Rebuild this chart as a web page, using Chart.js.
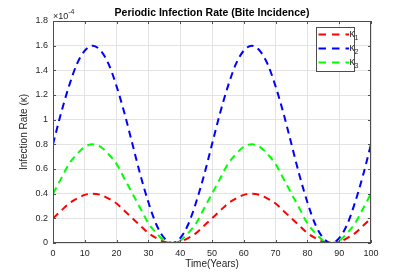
<!DOCTYPE html>
<html>
<head>
<meta charset="utf-8">
<script src="https://cdn.jsdelivr.net/npm/chart.js@4.4.1/dist/chart.umd.min.js"></script>
<style>
  html, body { margin: 0; padding: 0; background: #fff; }
  #wrap { width: 409px; height: 273px; }
</style>
</head>
<body>
<div id="wrap"><canvas id="rateChart" width="409" height="273"></canvas></div>
<script>
// Time axis (years) and the three infection rates, in units of 1e-4
const years = [0, 2.5, 5, 7.5, 10, 12.5, 15, 17.5, 20, 22.5, 25, 27.5, 30, 32.5, 35, 37.5, 40, 42.5, 45, 47.5,
  50, 52.5, 55, 57.5, 60, 62.5, 65, 67.5, 70, 72.5, 75, 77.5, 80, 82.5, 85, 87.5, 90, 92.5, 95, 97.5, 100];

const kappa1 = [0.20, 0.26, 0.32, 0.36, 0.39, 0.40, 0.39, 0.36, 0.32, 0.26, 0.20, 0.14, 0.08, 0.04, 0.01, 0.00, 0.01, 0.04, 0.08, 0.14,
  0.20, 0.26, 0.32, 0.36, 0.39, 0.40, 0.39, 0.36, 0.32, 0.26, 0.20, 0.14, 0.08, 0.04, 0.01, 0.00, 0.01, 0.04, 0.08, 0.14, 0.20];
const kappa2 = [0.80, 1.05, 1.27, 1.45, 1.56, 1.60, 1.56, 1.45, 1.27, 1.05, 0.80, 0.55, 0.33, 0.15, 0.04, 0.00, 0.04, 0.15, 0.33, 0.55,
  0.80, 1.05, 1.27, 1.45, 1.56, 1.60, 1.56, 1.45, 1.27, 1.05, 0.80, 0.55, 0.33, 0.15, 0.04, 0.00, 0.04, 0.15, 0.33, 0.55, 0.80];
const kappa3 = [0.40, 0.52, 0.64, 0.72, 0.78, 0.80, 0.78, 0.72, 0.64, 0.52, 0.40, 0.28, 0.16, 0.08, 0.02, 0.00, 0.02, 0.08, 0.16, 0.28,
  0.40, 0.52, 0.64, 0.72, 0.78, 0.80, 0.78, 0.72, 0.64, 0.52, 0.40, 0.28, 0.16, 0.08, 0.02, 0.00, 0.02, 0.08, 0.16, 0.28, 0.40];

const seriesNames = ['1', '2', '3'];   // subscripts of kappa
const xTicks = [0, 10, 20, 30, 40, 50, 60, 70, 80, 90, 100];
const yTicks = [0, 0.2, 0.4, 0.6, 0.8, 1, 1.2, 1.4, 1.6, 1.8];

const FONT = '"Liberation Sans", Arial, Helvetica, sans-serif';
const AXIS = '#4d4d4d';
const TEXT = '#262626';

const toPoints = arr => arr.map((v, i) => ({ x: years[i], y: v }));

// MATLAB-like decorations: title, exponent, box with inner ticks, legend
const matlabLook = {
    id: 'matlabLook',
    afterDraw(chart) {
        const { ctx, chartArea: a, scales } = chart;
        ctx.save();

        // box
        ctx.strokeStyle = AXIS;
        ctx.lineWidth = 1;
        ctx.strokeRect(a.left + 0.5, a.top + 0.5, a.right - a.left - 1, a.bottom - a.top - 1);

        // inner tick marks
        ctx.beginPath();
        xTicks.forEach(t => {
            const x = Math.round(scales.x.getPixelForValue(t)) + 0.5;
            ctx.moveTo(x, a.bottom); ctx.lineTo(x, a.bottom - 3);
            ctx.moveTo(x, a.top); ctx.lineTo(x, a.top + 3);
        });
        yTicks.forEach(t => {
            const y = Math.round(scales.y.getPixelForValue(t)) + 0.5;
            ctx.moveTo(a.left, y); ctx.lineTo(a.left + 3, y);
            ctx.moveTo(a.right, y); ctx.lineTo(a.right - 3, y);
        });
        ctx.stroke();

        // title
        ctx.fillStyle = '#000';
        ctx.font = 'bold 10.5px ' + FONT;
        ctx.textAlign = 'center';
        ctx.textBaseline = 'middle';
        ctx.fillText('Periodic Infection Rate (Bite Incidence)', (a.left + a.right) / 2, 13);

        // exponent label
        ctx.fillStyle = TEXT;
        ctx.textAlign = 'left';
        ctx.textBaseline = 'alphabetic';
        ctx.font = '9px ' + FONT;
        ctx.fillText('\u00d710', a.left, 18.5);
        const w = ctx.measureText('\u00d710').width;
        ctx.font = '7px ' + FONT;
        ctx.fillText('-4', a.left + w, 14);

        // legend
        const bx = 316, by = 27, bw = 38, bh = 44;
        ctx.fillStyle = '#fff';
        ctx.fillRect(bx, by, bw, bh);
        ctx.strokeStyle = AXIS;
        ctx.strokeRect(bx + 0.5, by + 0.5, bw, bh);
        chart.data.datasets.forEach((ds, i) => {
            const y = 34.5 + i * 14;
            ctx.strokeStyle = ds.borderColor;
            ctx.lineWidth = 2;
            ctx.setLineDash([7.5, 6]);
            ctx.beginPath();
            ctx.moveTo(318.5, y); ctx.lineTo(349, y);
            ctx.stroke();
            ctx.setLineDash([]);
            ctx.fillStyle = TEXT;
            ctx.font = '10px ' + FONT;
            ctx.textBaseline = 'middle';
            ctx.fillText('\u03ba', 349.5, y);
            const kw = ctx.measureText('\u03ba').width;
            ctx.font = '7px ' + FONT;
            ctx.fillText(seriesNames[i], 349.5 + kw, y + 3.5);
        });

        ctx.restore();
    }
};

const ctx = document.getElementById('rateChart').getContext('2d');
new Chart(ctx, {
    type: 'line',
    data: {
        datasets: [
            { label: 'kappa1', data: toPoints(kappa1), borderColor: '#ff0000', order: 3 },
            { label: 'kappa2', data: toPoints(kappa2), borderColor: '#0000ff', order: 2 },
            { label: 'kappa3', data: toPoints(kappa3), borderColor: '#00ff00', order: 1 }
        ]
    },
    options: {
        responsive: false,
        animation: false,
        devicePixelRatio: 1,
        layout: { padding: { top: 21, right: 38, left: 0, bottom: 0 } },
        elements: {
            line: { borderWidth: 2, borderDash: [7, 5], fill: false, cubicInterpolationMode: 'monotone' },
            point: { radius: 0 }
        },
        scales: {
            x: {
                type: 'linear',
                min: 0, max: 100,
                afterBuildTicks: s => { s.ticks = xTicks.map(v => ({ value: v })); },
                afterFit: s => { s.height = 30; },
                grid: { color: '#e3e3e3', drawTicks: false },
                border: { display: false },
                ticks: { color: TEXT, font: { family: FONT, size: 9 }, padding: 5, maxRotation: 0 },
                title: { display: true, text: 'Time(Years)', color: TEXT, font: { family: FONT, size: 10 }, padding: { top: 0, bottom: 3 } }
            },
            y: {
                min: 0, max: 1.8,
                afterBuildTicks: s => { s.ticks = yTicks.map(v => ({ value: v })); },
                afterFit: s => { s.width = 53; },
                grid: { color: '#e3e3e3', drawTicks: false },
                border: { display: false },
                ticks: { color: TEXT, font: { family: FONT, size: 9 }, padding: 5, callback: v => String(+v.toFixed(1)) },
                title: { display: true, text: 'Infection Rate (\u03ba)', color: TEXT, font: { family: FONT, size: 10 }, padding: { top: 18, bottom: 0 } }
            }
        },
        plugins: {
            legend: { display: false },
            tooltip: { enabled: false }
        }
    },
    plugins: [matlabLook]
});
</script>
</body>
</html>
